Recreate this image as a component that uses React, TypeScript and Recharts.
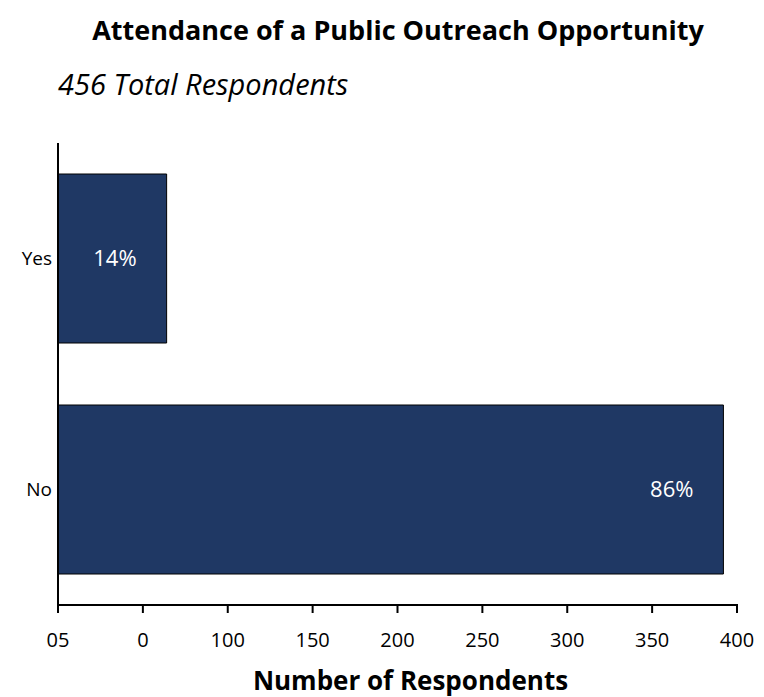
import React from "react";
import { BarChart, Bar, XAxis, YAxis, LabelList, Label } from "recharts";

const categories = ["Yes", "No"];
const respondents = [64, 392];
const percentLabels = ["14%", "86%"];
const xTicks = [0, 50, 100, 150, 200, 250, 300, 350, 400];
const xTickLabels = ["05", "0", "100", "150", "200", "250", "300", "350", "400"];

const data = categories.map((c, i) => ({
  category: c,
  value: respondents[i],
  pct: percentLabels[i],
}));

const FONT = "'Open Sans', sans-serif";

const XTick = (props: any) => {
  const { x, y, payload, index } = props;
  return (
    <g>
      <line x1={x} y1={y} x2={x} y2={y - 9} stroke="#000" strokeWidth={2} />
      <text
        x={x}
        y={y + 34}
        textAnchor="middle"
        fontSize={20}
        fontFamily={FONT}
        fill="#000"
      >
        {xTickLabels[index] ?? payload.value}
      </text>
    </g>
  );
};

const App: React.FC = () => {
  return (
    <div
      style={{
        position: "absolute",
        left: 0,
        top: 0,
        width: 764,
        height: 697,
        background: "#fff",
        fontFamily: FONT,
      }}
    >
      <div
        style={{
          position: "absolute",
          top: 11,
          left: 0,
          width: 796,
          textAlign: "center",
          fontSize: 27,
          fontWeight: 700,
          color: "#000",
          whiteSpace: "nowrap",
        }}
      >
        Attendance of a Public Outreach Opportunity
      </div>
      <div
        style={{
          position: "absolute",
          top: 64,
          left: 58,
          fontSize: 29,
          fontStyle: "italic",
          color: "#000",
          whiteSpace: "nowrap",
        }}
      >
        456 Total Respondents
      </div>
      <BarChart
        width={764}
        height={697}
        data={data}
        layout="vertical"
        margin={{ top: 143, right: 27, bottom: 0, left: 8 }}
        barCategoryGap={31}
      >
        <XAxis
          type="number"
          domain={[0, 400]}
          ticks={xTicks}
          interval={0}
          tickLine={false}
          tick={<XTick />}
          axisLine={{ stroke: "#000", strokeWidth: 2 }}
          height={92}
        >
          <Label
            value="Number of Respondents"
            position="insideBottom"
            offset={7}
            dx={13}
            style={{
              fontSize: 26,
              fontWeight: 700,
              fontFamily: FONT,
              fill: "#000",
            }}
          />
        </XAxis>
        <YAxis
          type="category"
          dataKey="category"
          width={50}
          tickLine={false}
          tickSize={0}
          tickMargin={6}
          axisLine={{ stroke: "#000", strokeWidth: 2 }}
          tick={{ fontSize: 19, fill: "#000", fontFamily: FONT }}
        />
        <Bar
          dataKey="value"
          fill="#1F3864"
          stroke="#000"
          strokeWidth={1}
          isAnimationActive={false}
        >
          <LabelList
            dataKey="pct"
            position="insideRight"
            offset={30}
            style={{ fontSize: 22, fill: "#fff", fontFamily: FONT }}
          />
        </Bar>
      </BarChart>
    </div>
  );
};

export default App;
